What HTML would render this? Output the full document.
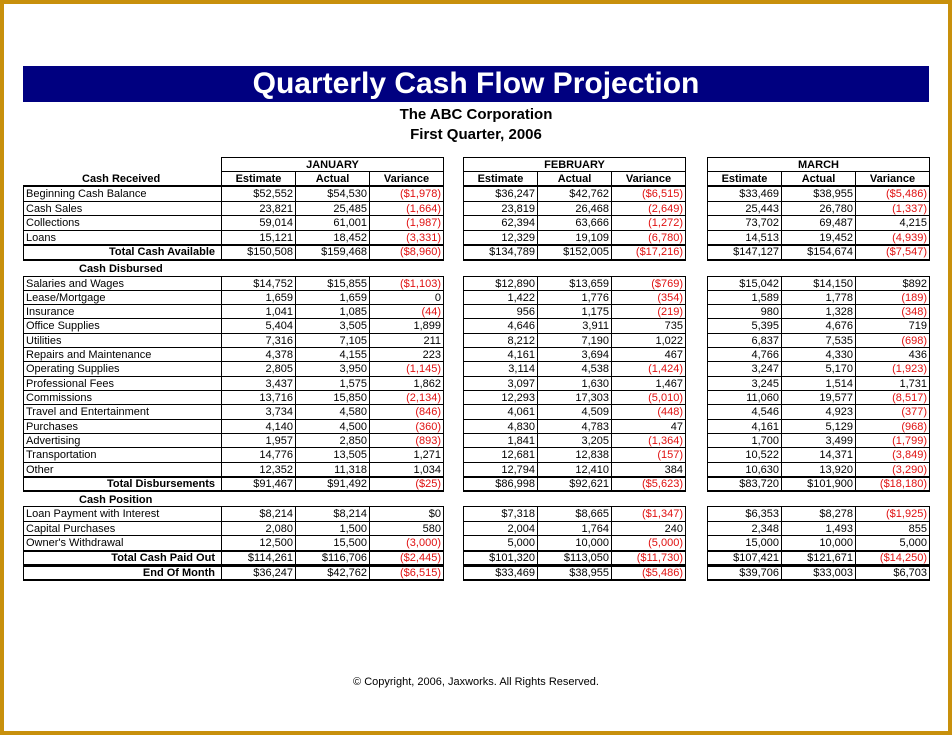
<!DOCTYPE html>
<html><head><meta charset="utf-8">
<style>
html,body{margin:0;padding:0;}
body{width:952px;height:735px;position:relative;background:#fff;overflow:hidden;font-family:"Liberation Sans",Arial,sans-serif;}
#frame{position:absolute;left:0;top:0;width:944px;height:727px;border:4px solid #c8900c;}
#title{position:absolute;left:23px;top:66px;width:906px;height:36px;background:#000080;color:#fff;font-weight:bold;font-size:30px;line-height:36px;text-align:center;}
.sub{position:absolute;left:0;width:952px;text-align:center;font-weight:bold;font-size:15px;}
.c{position:absolute;box-sizing:border-box;border:1px solid #000;font-size:11px;line-height:12px;white-space:nowrap;overflow:hidden;color:#000;}
.n{text-align:right;padding-right:2px;}
.l{text-align:left;padding-left:2px;}
.b{font-weight:bold;}
.red{color:#e01010;}
.h{position:absolute;font-size:11px;font-weight:bold;white-space:nowrap;}
#copy{position:absolute;left:0;width:952px;top:676px;text-align:center;font-size:11px;}
</style></head>
<body>
<div id="frame"></div>
<div id="title">Quarterly Cash Flow Projection</div>
<div class="sub" style="top:106px">The ABC Corporation</div>
<div class="sub" style="top:126px">First Quarter, 2006</div>
<div id="tbl"></div>
<div id="copy">© Copyright, 2006, Jaxworks. All Rights Reserved.</div>
<script>
const months = ["JANUARY","FEBRUARY","MARCH"];
const colHeads = ["Estimate","Actual","Variance"];
const labels = ["Beginning Cash Balance","Cash Sales","Collections","Loans","Total Cash Available","Cash Disbursed","Salaries and Wages","Lease/Mortgage","Insurance","Office Supplies","Utilities","Repairs and Maintenance","Operating Supplies","Professional Fees","Commissions","Travel and Entertainment","Purchases","Advertising","Transportation","Other","Total Disbursements","Cash Position","Loan Payment with Interest","Capital Purchases","Owner's Withdrawal","Total Cash Paid Out","End Of Month"];
const kinds = ["d","d","d","d","t","h","d","d","d","d","d","d","d","d","d","d","d","d","d","d","t","h","d","d","d","t","t"];
const jan = [["$52,552","$54,530","($1,978)"],["23,821","25,485","(1,664)"],["59,014","61,001","(1,987)"],["15,121","18,452","(3,331)"],["$150,508","$159,468","($8,960)"],null,["$14,752","$15,855","($1,103)"],["1,659","1,659","0"],["1,041","1,085","(44)"],["5,404","3,505","1,899"],["7,316","7,105","211"],["4,378","4,155","223"],["2,805","3,950","(1,145)"],["3,437","1,575","1,862"],["13,716","15,850","(2,134)"],["3,734","4,580","(846)"],["4,140","4,500","(360)"],["1,957","2,850","(893)"],["14,776","13,505","1,271"],["12,352","11,318","1,034"],["$91,467","$91,492","($25)"],null,["$8,214","$8,214","$0"],["2,080","1,500","580"],["12,500","15,500","(3,000)"],["$114,261","$116,706","($2,445)"],["$36,247","$42,762","($6,515)"]];
const feb = [["$36,247","$42,762","($6,515)"],["23,819","26,468","(2,649)"],["62,394","63,666","(1,272)"],["12,329","19,109","(6,780)"],["$134,789","$152,005","($17,216)"],null,["$12,890","$13,659","($769)"],["1,422","1,776","(354)"],["956","1,175","(219)"],["4,646","3,911","735"],["8,212","7,190","1,022"],["4,161","3,694","467"],["3,114","4,538","(1,424)"],["3,097","1,630","1,467"],["12,293","17,303","(5,010)"],["4,061","4,509","(448)"],["4,830","4,783","47"],["1,841","3,205","(1,364)"],["12,681","12,838","(157)"],["12,794","12,410","384"],["$86,998","$92,621","($5,623)"],null,["$7,318","$8,665","($1,347)"],["2,004","1,764","240"],["5,000","10,000","(5,000)"],["$101,320","$113,050","($11,730)"],["$33,469","$38,955","($5,486)"]];
const mar = [["$33,469","$38,955","($5,486)"],["25,443","26,780","(1,337)"],["73,702","69,487","4,215"],["14,513","19,452","(4,939)"],["$147,127","$154,674","($7,547)"],null,["$15,042","$14,150","$892"],["1,589","1,778","(189)"],["980","1,328","(348)"],["5,395","4,676","719"],["6,837","7,535","(698)"],["4,766","4,330","436"],["3,247","5,170","(1,923)"],["3,245","1,514","1,731"],["11,060","19,577","(8,517)"],["4,546","4,923","(377)"],["4,161","5,129","(968)"],["1,700","3,499","(1,799)"],["10,522","14,371","(3,849)"],["10,630","13,920","(3,290)"],["$83,720","$101,900","($18,180)"],null,["$6,353","$8,278","($1,925)"],["2,348","1,493","855"],["15,000","10,000","5,000"],["$107,421","$121,671","($14,250)"],["$39,706","$33,003","$6,703"]];
const monthData = [jan,feb,mar];

const T = document.getElementById('tbl');
const gx = [221,463,707], cw = 74, LX = 23, LW = 198;
function cell(x,y,w,h,txt,cls,bt,bb){
  const d=document.createElement('div');
  d.className='c '+cls;
  d.style.left=x+'px';d.style.top=y+'px';d.style.width=(w+1)+'px';d.style.height=(h+1)+'px';
  if(bt)d.style.borderTopWidth='2px';
  if(bb)d.style.borderBottomWidth='2px';
  d.style.paddingTop=(bt?0:1)+'px';
  d.textContent=txt;
  T.appendChild(d);return d;
}
const crh=document.createElement('div');crh.className='h';crh.style.left='82px';crh.style.top='173px';crh.textContent='Cash Received';


T.appendChild(crh);
const ln=document.createElement('div');ln.style.cssText='position:absolute;left:23px;top:185px;width:199px;height:2px;background:#000';


T.appendChild(ln);
months.forEach((m,i)=>{
  const d=cell(gx[i],157,cw*3,14,m,'b',false,false);d.style.textAlign='center';
  
  
  colHeads.forEach((c,j)=>{
    const e=cell(gx[i]+j*cw,171,cw,15,c,'b',false,true);e.style.textAlign='center';
    
    
  });
});
let y=186; const rowY=[],rowH=[];
kinds.forEach((k,i)=>{
  let h = 14.5;
  if(i>=6 && i<=19) h=14.31;
  if(k==='t') h=15; if(k==='h') h=15.5;
  if(i===4) h=16;
  rowY.push(y);rowH.push(h);y+=h;
});
labels.forEach((lab,i)=>{
  const k=kinds[i], yy=Math.round(rowY[i]), h=Math.round(rowY[i]+rowH[i])-yy;
  if(k==='h'){
    const d=document.createElement('div');d.className='h';d.style.left='79px';d.style.top=(yy+3)+'px';d.textContent=lab;
    
    
    T.appendChild(d);return;
  }
  const tot=k==='t';
  const lc=cell(LX,yy,LW,h,lab,tot?'b n':'l',tot,tot);
  if(tot)lc.style.paddingRight='6px';
  
  
  monthData.forEach((md,mi)=>{
    md[i].forEach((v,j)=>{
      const c=cell(gx[mi]+j*cw,yy,cw,h,v,'n'+(v.indexOf('(')>=0?' red':''),tot,tot);
      
      
    });
  });
});
</script>
</body></html>
